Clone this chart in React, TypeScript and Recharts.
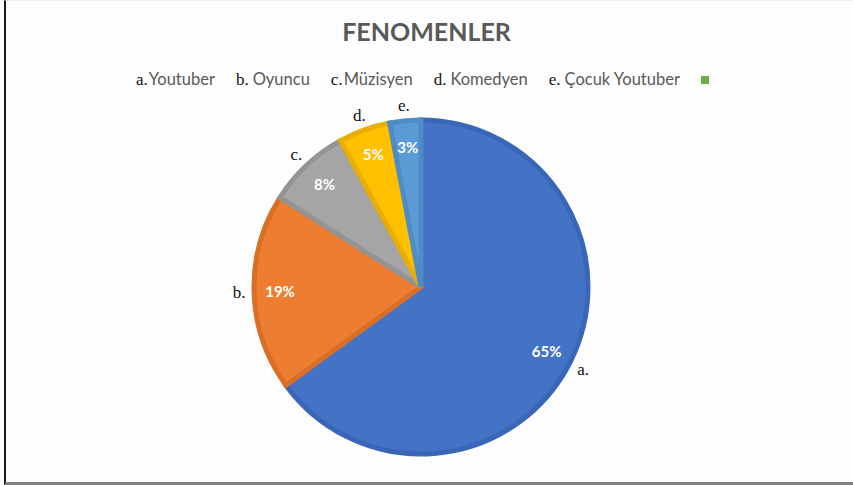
import { PieChart, Pie, Cell } from "recharts";

const letters = ["a.", "b.", "c.", "d.", "e.", ""];
const names = ["Youtuber", "Oyuncu", "Müzisyen", "Komedyen", "Çocuk Youtuber", ""];
const values = [65, 19, 8, 5, 3, 0];
const colors = ["#4472C4", "#ED7D31", "#A5A5A5", "#FFC000", "#5B9BD5", "#70AD47"];
const edgeColors = ["#3A66B8", "#D96F27", "#949494", "#E8AE00", "#4E8CC6", "#70AD47"];

const data = values.map((value, i) => ({
  name: names[i],
  letter: letters[i],
  value,
}));

const RADIAN = Math.PI / 180;

const renderLabel = (props: any) => {
  const { cx, cy, midAngle, outerRadius, index, value } = props;
  if (!value) return null;
  const cos = Math.cos(-midAngle * RADIAN);
  const sin = Math.sin(-midAngle * RADIAN);
  const rIn = outerRadius - 26;
  const rOut = outerRadius + 15;
  return (
    <g>
      <text
        x={cx + rIn * cos}
        y={cy + rIn * sin}
        fill="#fff"
        textAnchor="middle"
        dominantBaseline="central"
        fontFamily="Lato, 'Open Sans', sans-serif"
        fontWeight={700}
        fontSize={15}
      >
        {`${value}%`}
      </text>
      <text
        x={cx + rOut * cos}
        y={cy + rOut * sin}
        fill="#111"
        textAnchor="middle"
        dominantBaseline="central"
        fontFamily="'Liberation Serif', 'DejaVu Serif', serif"
        fontSize={17}
      >
        {data[index].letter}
      </text>
    </g>
  );
};

function ChartLegend() {
  return (
    <div
      style={{
        position: "absolute",
        top: 69,
        left: 0,
        width: 853,
        boxSizing: "border-box",
        display: "flex",
        justifyContent: "center",
        alignItems: "center",
        gap: 21,
        paddingRight: 8,
      }}
    >
      {data.map((d, i) =>
        d.name ? (
          <span key={i} style={{ whiteSpace: "nowrap" }}>
            <span style={{ fontFamily: "'Liberation Serif', serif", fontSize: 17, color: "#111" }}>
              {d.letter}
            </span>
            <span
              style={{
                fontFamily: "Lato, 'Open Sans', sans-serif",
                fontSize: 16.5,
                color: "#595959",
                marginLeft: d.letter === "a." || d.letter === "c." ? 1 : 4,
              }}
            >
              {d.name}
            </span>
          </span>
        ) : (
          <span
            key={i}
            style={{ display: "inline-block", width: 8, height: 8, background: colors[i] }}
          />
        )
      )}
    </div>
  );
}

export default function App() {
  return (
    <div
      style={{
        position: "absolute",
        left: 0,
        top: 0,
        width: 853,
        height: 485,
        background: "#fdfdfd",
      }}
    >
      <div
        style={{
          position: "absolute",
          left: 4,
          top: 0,
          width: 849,
          height: 485,
          borderLeft: "2px solid #1a1a1a",
          borderBottom: "3px solid #808080",
          borderTop: "1px solid #eeeeee",
          boxSizing: "border-box",
        }}
      />
      <div
        style={{
          position: "absolute",
          left: 0,
          top: 16,
          width: 853,
          textAlign: "center",
          fontFamily: "Lato, 'Open Sans', sans-serif",
          fontWeight: 700,
          fontSize: 25,
          color: "#595959",
        }}
      >
        FENOMENLER
      </div>
      <ChartLegend />
      <div style={{ position: "absolute", left: 0, top: 0 }}>
        <PieChart width={853} height={485} margin={{ top: 0, right: 0, bottom: 0, left: 0 }}>
          <Pie
            data={data}
            dataKey="value"
            nameKey="name"
            cx={421}
            cy={287}
            outerRadius={167}
            startAngle={90}
            endAngle={-270}
            label={renderLabel}
            labelLine={false}
            isAnimationActive={false}
          >
            {data.map((d, i) => (
              <Cell
                key={i}
                fill={colors[i]}
                stroke={d.value ? edgeColors[i] : "none"}
                strokeWidth={5}
              />
            ))}
          </Pie>
        </PieChart>
      </div>
    </div>
  );
}
